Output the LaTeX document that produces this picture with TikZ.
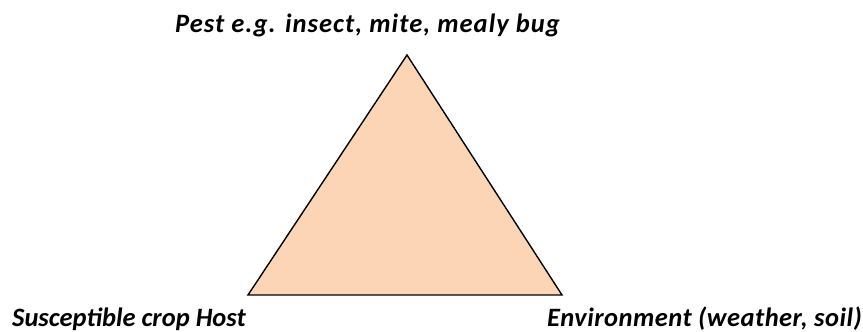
\documentclass[tikz,border=0pt]{standalone}
\usepackage{fontspec}
\setmainfont{Carlito}
\definecolor{peach}{HTML}{FBD5B5}
\begin{document}
\begin{tikzpicture}[x=1pt,y=1pt,
  lbl/.style={font=\fontsize{26.5}{30}\selectfont\bfseries\itshape, inner sep=0pt}]
\useasboundingbox (0,0) rectangle (863,332);
\coordinate (apex) at (407,277);
\coordinate (bl) at (248,37);
\coordinate (br) at (562,37);
\filldraw[fill=peach, draw=black, line width=1.4pt, line join=miter] (apex) -- (bl) -- (br) -- cycle;
\node[lbl, anchor=base] (pest) at (367.5,299) {\addfontfeature{LetterSpace=4}Pest e.g. insect, mite, mealy bug};
\node[lbl, anchor=base west] (host) at (12,5) {Susceptible crop Host};
\node[lbl, anchor=base east] (env) at (862,5) {\addfontfeature{LetterSpace=1.8}Environment (weather, soil)};
\end{tikzpicture}
\end{document}
